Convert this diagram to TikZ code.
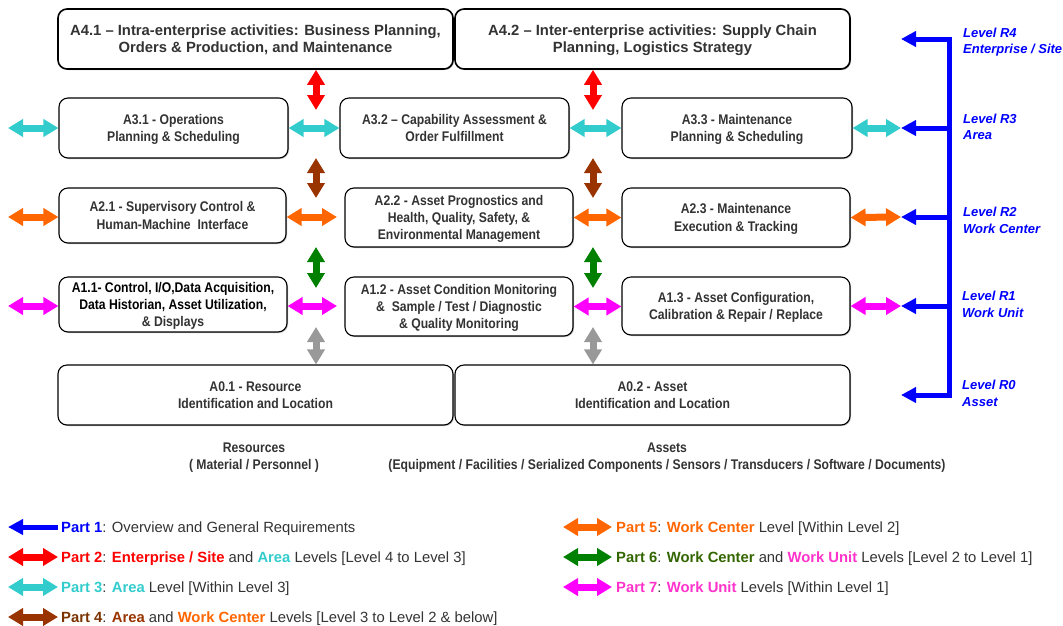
\documentclass[tikz,border=0pt]{standalone}
\usepackage{fontspec}
\setmainfont{Liberation Sans}
\newfontfamily\narrowfont[FakeStretch=0.87,Ligatures=TeX]{Liberation Sans}
\usetikzlibrary{arrows.meta,shadows}
\definecolor{txt}{HTML}{333333}
\definecolor{cyanA}{HTML}{33CCCC}
\definecolor{brownA}{HTML}{993300}
\definecolor{brownT}{HTML}{7A3300}
\definecolor{orangeA}{HTML}{FF6600}
\definecolor{greenA}{HTML}{008000}
\definecolor{greenT}{HTML}{336600}
\definecolor{magA}{HTML}{FF00FF}
\definecolor{pinkT}{HTML}{FF33CC}
\definecolor{greyA}{HTML}{999999}
\definecolor{blueA}{HTML}{0000FF}
\definecolor{redA}{HTML}{FF0000}
\tikzset{
  box/.style={draw=black, line width=1.1pt, rounded corners=9pt, fill=white,
    align=center, text=txt, inner sep=2pt, text depth=-3pt,
    font=\narrowfont\bfseries\fontsize{14}{17.3}\selectfont,
    drop shadow={shadow xshift=1pt, shadow yshift=-1pt, fill=black!45, opacity=0.6}},
  topbox/.style={box, line width=1.6pt, font=\bfseries\fontsize{14.8}{17}\selectfont},
  fat/.style={line width=7pt, {Triangle[length=15pt,width=17pt]}-{Triangle[length=15pt,width=17pt]}},
  bluearr/.style={draw=blueA, line width=5pt, miter limit=10, -{Triangle[length=15pt,width=15pt]}},
  lvl/.style={anchor=west, align=left, text=blueA, font=\bfseries\itshape\fontsize{13}{16.5}\selectfont, inner sep=0pt},
  lbl/.style={align=center, text=txt, font=\narrowfont\bfseries\fontsize{14}{17}\selectfont, inner sep=0pt},
  leg/.style={anchor=west, text=txt, font=\fontsize{14.8}{17}\selectfont, inner sep=0pt},
}
\begin{document}
\begin{tikzpicture}[x=1pt,y=-1pt]
\useasboundingbox (0,0) rectangle (1063,625);

% boxes
\node[topbox, minimum width=395pt, minimum height=60pt] (a41) at (255.5,39)
  {A4.1 – Intra-enterprise activities: Business Planning,\\Orders \& Production, and Maintenance};
\node[topbox, minimum width=395pt, minimum height=60pt] (a42) at (652.5,39)
  {A4.2 – Inter-enterprise activities: Supply Chain\\Planning, Logistics Strategy};

\node[box, minimum width=229pt, minimum height=60pt] (a31) at (173.5,128)
  {A3.1 - Operations\\Planning \& Scheduling};
\node[box, minimum width=229pt, minimum height=60pt] (a32) at (454.5,128)
  {A3.2 – Capability Assessment \&\\Order Fulfillment};
\node[box, minimum width=230pt, minimum height=60pt] (a33) at (737,128)
  {A3.3 - Maintenance\\Planning \& Scheduling};

\node[box, minimum width=227pt, minimum height=55pt] (a21) at (172.5,215.5)
  {A2.1 - Supervisory Control \&\\Human-Machine\ \ Interface};
\node[box, minimum width=228pt, minimum height=59pt] (a22) at (459,217.5)
  {A2.2 - Asset Prognostics and\\Health, Quality, Safety, \&\\Environmental Management};
\node[box, minimum width=228pt, minimum height=59pt] (a23) at (736,217.5)
  {A2.3 - Maintenance\\Execution \& Tracking};

\node[box, minimum width=228pt, minimum height=55pt] (a11) at (173,304.5)
  {\textcolor{black}{A1.1- Control, I/O,Data Acquisition,}\\\textcolor{black}{Data Historian, Asset Utilization,}\\\& Displays};
\node[box, minimum width=228pt, minimum height=59pt] (a12) at (459,306.5)
  {A1.2 - Asset Condition Monitoring\\\&\ \ Sample / Test / Diagnostic\\\& Quality Monitoring};
\node[box, minimum width=228pt, minimum height=58pt] (a13) at (736,306)
  {A1.3 - Asset Configuration,\\Calibration \& Repair / Replace};

\node[box, minimum width=395pt, minimum height=60pt] (a01) at (255.5,395)
  {A0.1 - Resource\\Identification and Location};
\node[box, minimum width=395pt, minimum height=60pt] (a02) at (652.5,395)
  {A0.2 - Asset\\Identification and Location};

% bottom captions
\node[lbl] (res) at (254,458) {Resources\\( Material / Personnel )};
\node[lbl] (ast) at (667,458) {Assets\\(Equipment / Facilities / Serialized Components / Sensors / Transducers / Software / Documents)};

% coordinates for free arrow ends
\coordinate (vL) at (316,0);
\coordinate (vR) at (593,0);
\coordinate (h3a) at (8,128);
\coordinate (h2a) at (8,217);
\coordinate (h1a) at (8,306);
\coordinate (h2b) at (337,217);
\coordinate (h1b) at (337,306);
\coordinate (b4) at (901,39);
\coordinate (b3) at (901,128);
\coordinate (b2) at (901,217);
\coordinate (b1) at (901,306);
\coordinate (b0) at (901,395);
\coordinate (s4) at (949,39);
\coordinate (s3) at (949,128);
\coordinate (s2) at (949,217);
\coordinate (s1) at (949,306);
\coordinate (s0) at (949,395);

% vertical arrows
\coordinate (r1e) at (316,110); \coordinate (r2e) at (593,110);
\draw[fat, redA] (a41.south -| vL) -- (r1e);
\draw[fat, redA] (a42.south -| vR) -- (r2e);
\coordinate (br1) at (316,158); \coordinate (br1e) at (316,198);
\coordinate (br2) at (593,158); \coordinate (br2e) at (593,198);
\draw[fat, brownA] (br1) -- (br1e);
\draw[fat, brownA] (br2) -- (br2e);
\coordinate (g1) at (316,247); \coordinate (g1e) at (316,288);
\coordinate (g2) at (593,247); \coordinate (g2e) at (593,288);
\draw[fat, greenA] (g1) -- (g1e);
\draw[fat, greenA] (g2) -- (g2e);
\coordinate (gr1) at (316,327); \coordinate (gr2) at (593,327);
\draw[fat, greyA] (gr1) -- (a01.north -| vL);
\draw[fat, greyA] (gr2) -- (a02.north -| vR);

% horizontal arrows
\draw[fat, cyanA] (h3a) -- (a31.west);
\draw[fat, cyanA] (a31.east) -- (a32.west);
\draw[fat, cyanA] (a32.east) -- (a33.west);
\draw[fat, cyanA] (a33.east) -- (b3);

\draw[fat, orangeA] (h2a) -- (a21.west |- h2a);
\draw[fat, orangeA] (a21.east |- h2a) -- (h2b);
\draw[fat, orangeA] (a22.east) -- (a23.west);
\draw[fat, orangeA] (a23.east) -- (b2);

\draw[fat, magA] (h1a) -- (a11.west |- h1a);
\draw[fat, magA] (a11.east |- h1a) -- (h1b);
\draw[fat, magA] (a12.east) -- (a13.west |- a12.east);
\draw[fat, magA] (a13.east |- h1a) -- (b1);

% blue level spine
\draw[draw=blueA, line width=5pt, miter limit=10, {Triangle[length=15pt,width=15pt]}-{Triangle[length=15pt,width=15pt]}]
  (b4) -- (s4) -- (s0) -- (b0);
\draw[bluearr] (s3) -- (b3);
\draw[bluearr] (s2) -- (b2);
\draw[bluearr] (s1) -- (b1);

% level labels
\node[lvl] (l4) at (963,42) {Level R4\\Enterprise / Site};
\node[lvl] (l3) at (963,127) {Level R3\\Area};
\node[lvl] (l2) at (963,220.5) {Level R2\\Work Center};
\node[lvl] (l1) at (962,304.5) {Level R1\\Work Unit};
\node[lvl] (l0) at (962,393.5) {Level R0\\Asset};

% legend
\coordinate (p1a) at (58,527); \coordinate (p1b) at (8,527);
\coordinate (p2a) at (8,557); \coordinate (p2b) at (58,557);
\coordinate (p3a) at (8,587); \coordinate (p3b) at (58,587);
\coordinate (p4a) at (8,617); \coordinate (p4b) at (58,617);
\coordinate (p5a) at (563,527); \coordinate (p5b) at (612,527);
\coordinate (p6a) at (563,557); \coordinate (p6b) at (612,557);
\coordinate (p7a) at (563,587); \coordinate (p7b) at (612,587);
\draw[bluearr] (p1a) -- (p1b);
\draw[fat, redA] (p2a) -- (p2b);
\draw[fat, cyanA] (p3a) -- (p3b);
\draw[fat, brownA] (p4a) -- (p4b);
\draw[fat, orangeA] (p5a) -- (p5b);
\draw[fat, greenA] (p6a) -- (p6b);
\draw[fat, magA] (p7a) -- (p7b);

\node[leg] (t1) at (61,528.5) {\textbf{\textcolor{blueA}{Part 1}}: Overview and General Requirements};
\node[leg] (t2) at (61,558.5) {\textbf{\textcolor{redA}{Part 2}}: \textbf{\textcolor{redA}{Enterprise / Site}} and \textbf{\textcolor{cyanA}{Area}} Levels [Level 4 to Level 3]};
\node[leg] (t3) at (61,588.5) {\textbf{\textcolor{cyanA}{Part 3}}: \textbf{\textcolor{cyanA}{Area}} Level [Within Level 3]};
\node[leg] (t4) at (61,618.5) {\textbf{\textcolor{brownT}{Part 4}}: \textbf{\textcolor{brownA}{Area}} and \textbf{\textcolor{orangeA}{Work Center}} Levels [Level 3 to Level 2 \& below]};
\node[leg] (t5) at (616,528.5) {\textbf{\textcolor{orangeA}{Part 5}}: \textbf{\textcolor{orangeA}{Work Center}} Level [Within Level 2]};
\node[leg] (t6) at (616,558.5) {\textbf{\textcolor{greenT}{Part 6}}: \textbf{\textcolor{greenT}{Work Center}} and \textbf{\textcolor{pinkT}{Work Unit}} Levels [Level 2 to Level 1]};
\node[leg] (t7) at (616,588.5) {\textbf{\textcolor{pinkT}{Part 7}}: \textbf{\textcolor{pinkT}{Work Unit}} Levels [Within Level 1]};
\end{tikzpicture}
\end{document}
